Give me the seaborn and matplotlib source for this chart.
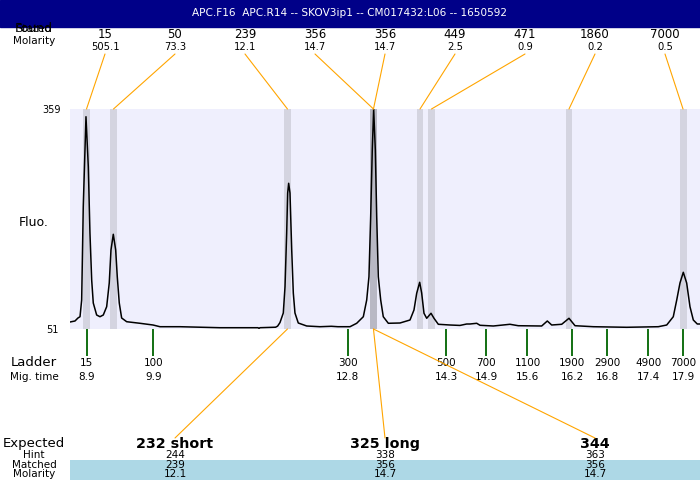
import matplotlib
matplotlib.use("Agg")
import matplotlib.pyplot as plt
from matplotlib.patches import ConnectionPatch, Rectangle
import seaborn as sns

title = "APC.F16  APC.R14 -- SKOV3ip1 -- CM017432:L06 -- 1650592"

# ==== electropherogram trace (migration time [min], fluorescence) ====
trace_time = [8.659, 8.734, 8.779, 8.81, 8.835, 8.859, 8.9, 8.935, 8.96, 8.986,
              9.01, 9.061, 9.111, 9.161, 9.212, 9.251, 9.277, 9.312, 9.348, 9.372,
              9.402, 9.438, 9.514, 9.714, 9.911, 10.016, 10.318, 10.92, 11.494, 11.51,
              11.524, 11.76, 11.79, 11.826, 11.876, 11.902, 11.927, 11.942, 11.957, 11.977,
              12.003, 12.027, 12.052, 12.102, 12.229, 12.429, 12.6, 12.7, 12.882, 12.983,
              13.083, 13.134, 13.168, 13.194, 13.218, 13.239, 13.264, 13.285, 13.309, 13.345,
              13.384, 13.46, 13.636, 13.787, 13.847, 13.888, 13.933, 13.963, 13.998, 14.039,
              14.104, 14.149, 14.214, 14.39, 14.541, 14.642, 14.692, 14.793, 14.843, 15.043,
              15.295, 15.42, 15.773, 15.858, 15.924, 16.075, 16.185, 16.276, 16.552, 17.055,
              17.532, 17.659, 17.758, 17.81, 17.859, 17.909, 17.96, 18.01, 18.06, 18.12,
              18.161]
trace_fluo = [60.8, 62.2, 66.4, 68.2, 91.6, 222.2, 348.2, 278.2, 185.4, 119.6,
              87.4, 70.6, 68.2, 70.6, 82.2, 115.4, 161.6, 183.6, 161.6, 124.2,
              87.4, 66.4, 61.2, 59.0, 56.6, 54.2, 54.2, 52.8, 52.8, 51.8,
              52.8, 53.5, 55.0, 60.0, 73.4, 110.2, 185.4, 241.4, 255.0, 241.4,
              161.6, 101.4, 73.4, 59.4, 55.2, 54.2, 54.8, 54.2, 54.2, 59.0,
              68.2, 91.6, 124.2, 208.2, 301.6, 358.6, 301.6, 208.2, 124.2, 91.6,
              68.2, 59.0, 59.4, 63.6, 77.6, 101.0, 116.4, 101.4, 73.0, 66.0,
              73.0, 66.0, 57.6, 56.6, 56.0, 58.0, 58.0, 59.0, 56.2, 55.2,
              57.6, 55.6, 55.2, 62.2, 56.6, 57.6, 66.0, 55.6, 54.2, 53.4,
              54.2, 56.6, 68.2, 91.6, 115.4, 130.4, 115.4, 82.2, 63.6, 58.0,
              58.0]

# ==== found peaks ====
found_size = ["15", "50", "239", "356", "356", "449", "471", "1860", "7000"]
found_molarity = ["505.1", "73.3", "12.1", "14.7", "14.7", "2.5", "0.9", "0.2", "0.5"]
found_time = [8.908, 9.315, 11.939, 13.236, 13.236, 13.938, 14.111, 16.185, 17.905]
selected_time = 13.236

# ==== ladder ====
ladder_size = ["15", "100", "300", "500", "700", "1100", "1900", "2900", "4900", "7000"]
ladder_mig = ["8.9", "9.9", "12.8", "14.3", "14.9", "15.6", "16.2", "16.8", "17.4", "17.9"]
ladder_pos = [8.911, 9.915, 12.847, 14.334, 14.938, 15.559, 16.235, 16.763, 17.384, 17.909]

# ==== expected products ====
expected = ["232 short", "325 long", "344"]
hint = ["244", "338", "363"]
matched = ["239", "356", "356"]
matched_molarity = ["12.1", "14.7", "14.7"]
matched_time = [11.939, 13.236, 13.236]

fluo_min, fluo_max = 51, 359

W, H = 700, 480
def fy(px):  # pixel row -> figure fraction
    return 1 - px / H

def ay(px):  # pixel row -> axes fraction
    return (329 - px) / 220

ORANGE = "#ffa500"

fig = plt.figure(figsize=(7, 4.8), dpi=100)
ax = fig.add_axes([70 / W, fy(329), 630 / W, 220 / H])
ax.set_facecolor("#efeffd")
ax.set_xlim(8.659, 18.161)
ax.set_ylim(fluo_min, fluo_max)
for s in ax.spines.values():
    s.set_visible(False)
ax.set_xticks([])
ax.set_yticks([fluo_min, fluo_max])
ax.tick_params(axis="y", length=0, pad=13, labelsize=7)
for lab in ax.get_yticklabels():
    lab.set_ha("center")

# peak bands
band_w = 0.105
for t in sorted(set(found_time)):
    c = "#b8b8c4" if t == selected_time else "#d4d4e0"
    ax.axvspan(t - band_w / 2, t + band_w / 2, color=c, lw=0, zorder=1)

sns.lineplot(x=trace_time, y=trace_fluo, ax=ax, color="black", lw=1.1,
             estimator=None, sort=False, zorder=3)
ax.set_xlabel("")
ax.set_ylabel("")

# title bar
fig.patches.append(Rectangle((0, fy(27)), 1, 27 / H, transform=fig.transFigure,
                             color="#000088", zorder=0))
fig.text(0.5, fy(13.5), title, color="white", fontsize=7.6, ha="center", va="center")

# left labels
lx = 34 / W
fig.text(lx, fy(29), "Stated", fontsize=8, ha="center", va="center")
fig.text(lx, fy(29), "Found", fontsize=9, ha="center", va="center")
fig.text(lx, fy(41), "Molarity", fontsize=7.5, ha="center", va="center")
fig.text(lx, fy(222), "Fluo.", fontsize=9, ha="center", va="center")
fig.text(lx, fy(363), "Ladder", fontsize=9.5, ha="center", va="center")
fig.text(lx, fy(377), "Mig. time", fontsize=7.5, ha="center", va="center")
fig.text(lx, fy(444), "Expected", fontsize=9.5, ha="center", va="center")
fig.text(lx, fy(455), "Hint", fontsize=7.5, ha="center", va="center")
fig.text(lx, fy(465), "Matched", fontsize=7.5, ha="center", va="center")
fig.text(lx, fy(474), "Molarity", fontsize=7.5, ha="center", va="center")

# found labels + connectors
n = len(found_size)
for i, (sz, mol, t) in enumerate(zip(found_size, found_molarity, found_time)):
    xf = (i + 0.5) / n
    ax.text(xf, ay(34), sz, transform=ax.transAxes, fontsize=8.5, ha="center",
            va="center", clip_on=False)
    ax.text(xf, ay(47), mol, transform=ax.transAxes, fontsize=7.2, ha="center",
            va="center", clip_on=False)
    con = ConnectionPatch(xyA=(xf, ay(54)), coordsA=ax.transAxes,
                          xyB=(t, fluo_max), coordsB=ax.transData,
                          color=ORANGE, lw=0.8)
    fig.add_artist(con)

# ladder ticks and labels
xtrans = ax.get_xaxis_transform()
ax.vlines(ladder_pos, ay(356), 0, transform=xtrans, colors="#006400", lw=1.3,
          clip_on=False)
for pos, sz, mig in zip(ladder_pos, ladder_size, ladder_mig):
    ax.text(pos, ay(363), sz, transform=xtrans, fontsize=7.5, ha="center",
            va="center", clip_on=False)
    ax.text(pos, ay(377), mig, transform=xtrans, fontsize=7.5, ha="center",
            va="center", clip_on=False)

# expected products table
ax.add_patch(Rectangle((0, ay(480)), 1, (480 - 460) / 220, transform=ax.transAxes,
                       color="lightblue", lw=0, clip_on=False, zorder=0))
m = len(expected)
for i in range(m):
    xf = (i + 0.5) / m
    con = ConnectionPatch(xyA=(xf, ay(438)), coordsA=ax.transAxes,
                          xyB=(matched_time[i], fluo_min), coordsB=ax.transData,
                          color=ORANGE, lw=0.8)
    fig.add_artist(con)
    ax.text(xf, ay(444), expected[i], transform=ax.transAxes, fontsize=10.3,
            fontweight="bold", ha="center", va="center", clip_on=False)
    ax.text(xf, ay(455), hint[i], transform=ax.transAxes, fontsize=7.5,
            ha="center", va="center", clip_on=False)
    ax.text(xf, ay(465), matched[i], transform=ax.transAxes, fontsize=7.5,
            ha="center", va="center", clip_on=False)
    ax.text(xf, ay(474), matched_molarity[i], transform=ax.transAxes, fontsize=7.5,
            ha="center", va="center", clip_on=False)

fig.savefig("out.png", dpi=100)
